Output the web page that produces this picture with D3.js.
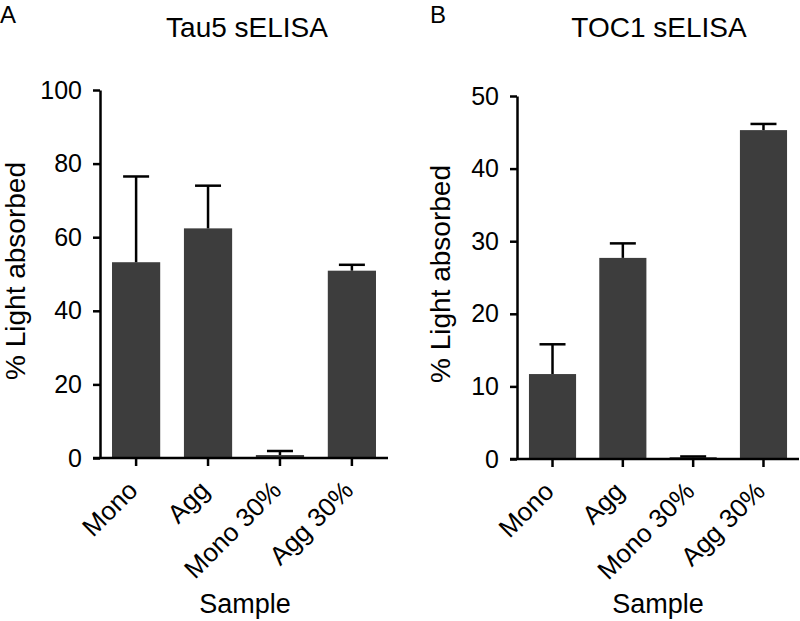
<!DOCTYPE html>
<html>
<head>
<meta charset="utf-8">
<script src="https://cdn.jsdelivr.net/npm/d3@7"></script>
<style>
  html, body { margin: 0; padding: 0; background: #ffffff; }
  svg { display: block; }
  text { font-family: Arial, "Liberation Sans", Helvetica, sans-serif; fill: #000; }
</style>
</head>
<body>
<svg id="chart" width="800" height="621"></svg>
<script>
// ---- data ----
const categories = ["Mono", "Agg", "Mono 30%", "Agg 30%"];
const tau5Values = [53.2, 62.4, 0.8, 50.9];
const tau5Errors = [23.3, 11.6, 1.1, 1.6];
const toc1Values = [11.7, 27.7, 0.25, 45.3];
const toc1Errors = [4.1, 2.0, 0.1, 0.85];
const tau5Ticks = [0, 20, 40, 60, 80, 100];
const toc1Ticks = [0, 10, 20, 30, 40, 50];
const panelLetters = ["A", "B"];
const panelTitles = ["Tau5 sELISA", "TOC1 sELISA"];
const yLabel = "% Light absorbed";
const xLabel = "Sample";

const svg = d3.select("#chart");
const barColor = "#3d3d3d";
const lw = 2.5;

function drawPanel(cfg) {
  const g = svg.append("g");
  const y = d3.scaleLinear().domain([0, cfg.ymax]).range([cfg.y0, cfg.yTop]);
  const x = d3.scaleBand().domain(categories)
    .range([cfg.axisX, cfg.xEnd]).paddingInner(0.33).paddingOuter(cfg.padOuter);

  // bars
  g.selectAll("rect.bar").data(categories).enter().append("rect")
    .attr("x", d => x(d))
    .attr("width", x.bandwidth())
    .attr("y", (d, i) => y(cfg.values[i]))
    .attr("height", (d, i) => y(0) - y(cfg.values[i]))
    .attr("fill", barColor);

  // error bars (upper only)
  const capW = 26;
  categories.forEach((c, i) => {
    const cx = x(c) + x.bandwidth() / 2;
    const top = y(cfg.values[i] + cfg.errors[i]);
    g.append("line").attr("x1", cx).attr("x2", cx)
      .attr("y1", y(cfg.values[i])).attr("y2", top)
      .attr("stroke", "#000").attr("stroke-width", lw);
    g.append("line").attr("x1", cx - capW / 2).attr("x2", cx + capW / 2)
      .attr("y1", top).attr("y2", top)
      .attr("stroke", "#000").attr("stroke-width", lw);
  });

  // y axis
  const yAxis = d3.axisLeft(y).tickValues(cfg.ticks).tickSize(7).tickSizeOuter(0).tickPadding(11);
  const ya = g.append("g").attr("transform", `translate(${cfg.axisX},0)`).call(yAxis);
  ya.select(".domain").attr("stroke-width", lw).attr("stroke", "#000");
  ya.selectAll(".tick line").attr("stroke-width", lw).attr("stroke", "#000");
  ya.selectAll(".tick text").attr("font-size", 25)
    .attr("font-family", "Arial, 'Liberation Sans', Helvetica, sans-serif").attr("fill", "#000");

  // x axis
  const xAxis = d3.axisBottom(x).tickSize(8).tickSizeOuter(0).tickFormat("");
  const xa = g.append("g").attr("transform", `translate(0,${cfg.y0})`).call(xAxis);
  xa.select(".domain").attr("d", `M${cfg.axisX - 7},0H${cfg.xEnd}`)
    .attr("stroke-width", lw).attr("stroke", "#000");
  xa.selectAll(".tick line").attr("stroke-width", lw).attr("stroke", "#000");

  // rotated x tick labels
  categories.forEach(c => {
    const cx = x(c) + x.bandwidth() / 2;
    g.append("text")
      .attr("transform", `translate(${cx + 3},${cfg.y0 + 34}) rotate(-45)`)
      .attr("text-anchor", "end")
      .attr("font-size", 26)
      .text(c);
  });

  // y label
  g.append("text")
    .attr("transform", `translate(${cfg.yLabelX},${cfg.yLabelY}) rotate(-90)`)
    .attr("text-anchor", "middle")
    .attr("font-size", 28)
    .text(yLabel);

  // x label
  g.append("text")
    .attr("x", cfg.xLabelX).attr("y", 613)
    .attr("text-anchor", "middle")
    .attr("font-size", 27)
    .text(xLabel);

  // title
  g.append("text")
    .attr("x", cfg.titleX).attr("y", 37)
    .attr("text-anchor", "middle")
    .attr("font-size", 28)
    .text(cfg.title);

  // panel letter
  g.append("text")
    .attr("x", cfg.letterX).attr("y", 23)
    .attr("font-size", 24)
    .text(cfg.letter);
}

drawPanel({
  values: tau5Values, errors: tau5Errors, ticks: tau5Ticks, ymax: 100,
  y0: 458, yTop: 90, axisX: 100, xEnd: 388, padOuter: 0.167,
  yLabelX: 25, yLabelY: 271, xLabelX: 245, titleX: 247,
  title: panelTitles[0], letter: panelLetters[0], letterX: 0
});

drawPanel({
  values: toc1Values, errors: toc1Errors, ticks: toc1Ticks, ymax: 50,
  y0: 459, yTop: 96, axisX: 517, xEnd: 799, padOuter: 0.17,
  yLabelX: 450, yLabelY: 274, xLabelX: 658, titleX: 659,
  title: panelTitles[1], letter: panelLetters[1], letterX: 430
});
</script>
</body>
</html>
